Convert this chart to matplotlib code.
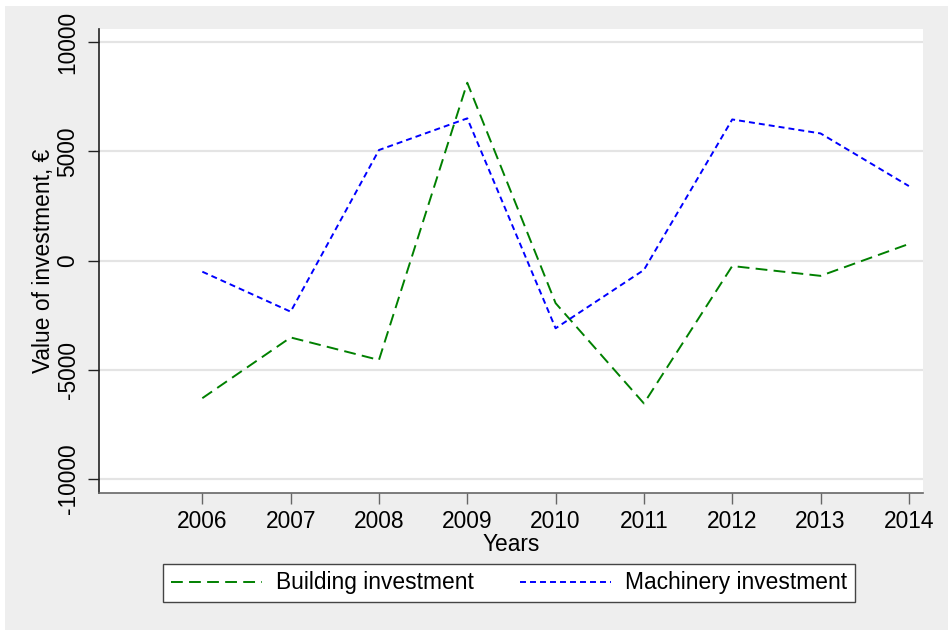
import matplotlib
matplotlib.use("Agg")
import matplotlib.pyplot as plt
import matplotlib.patches as mpatches

years = [2006, 2007, 2008, 2009, 2010, 2011, 2012, 2013, 2014]
building = [-6300, -3520, -4550, 8140, -1950, -6540, -250, -700, 760]
machinery = [-510, -2340, 5060, 6510, -3100, -430, 6460, 5820, 3410]
yticks = [-10000, -5000, 0, 5000, 10000]

BG = "#EEEEEE"
GRID = "#E4E4E4"
FS = 16.4

plt.rcParams["font.family"] = ["Liberation Sans", "DejaVu Sans"]
plt.rcParams["lines.scale_dashes"] = False

fig = plt.figure(figsize=(9.48, 6.30), dpi=100)
fig.patch.set_facecolor("white")
# grey outer region (Stata-style graph region)
fig.add_artist(mpatches.Rectangle((5 / 948, 0), 1, 1 - 6 / 630,
                                  transform=fig.transFigure,
                                  facecolor=BG, edgecolor="none", zorder=0))

ax = fig.add_axes([99 / 948, 1 - 493 / 630, 824 / 948, 464 / 630])
ax.set_facecolor("white")

for y in yticks:
    ax.axhline(y, color=GRID, linewidth=1.6, zorder=1)

ax.plot(years, building, color="#008000", linewidth=1.4,
        dashes=(8.5, 4.5), label="Building investment", zorder=3)
ax.plot(years, machinery, color="#0000FF", linewidth=1.4,
        dashes=(4.3, 2.9), label="Machinery investment", zorder=3)

ax.set_xlim(2004.83, 2014.16)
ax.set_ylim(-10640, 10600)
ax.set_xticks(years)
ax.set_yticks(yticks)
ax.set_yticklabels([str(v) for v in yticks], rotation=90, va="center",
                   fontsize=FS)
ax.set_xticklabels([str(v) for v in years], fontsize=FS)

for side in ["top", "right"]:
    ax.spines[side].set_visible(False)
ax.spines["left"].set_color("#222222")
ax.spines["bottom"].set_color("#666666")
ax.spines["left"].set_linewidth(1.2)
ax.spines["bottom"].set_linewidth(1.2)
ax.tick_params(axis="y", length=8, width=1.0, color="#222222", pad=6)
ax.tick_params(axis="x", length=8, width=1.0, color="#666666", pad=4)

ax.set_xlabel("Years", fontsize=FS, labelpad=0)
ax.set_ylabel("Value of investment, €", fontsize=FS, labelpad=1)

leg = fig.legend(loc="center", bbox_to_anchor=(509 / 948, 1 - 583 / 630),
                 ncol=2, fontsize=FS, frameon=True, fancybox=False,
                 handlelength=4.0, handletextpad=0.62, columnspacing=2.0,
                 borderpad=0.35, borderaxespad=0)
leg.get_frame().set_edgecolor("#444444")
leg.get_frame().set_linewidth(1.0)
leg.get_frame().set_alpha(1)

fig.savefig("out.png", dpi=100)
